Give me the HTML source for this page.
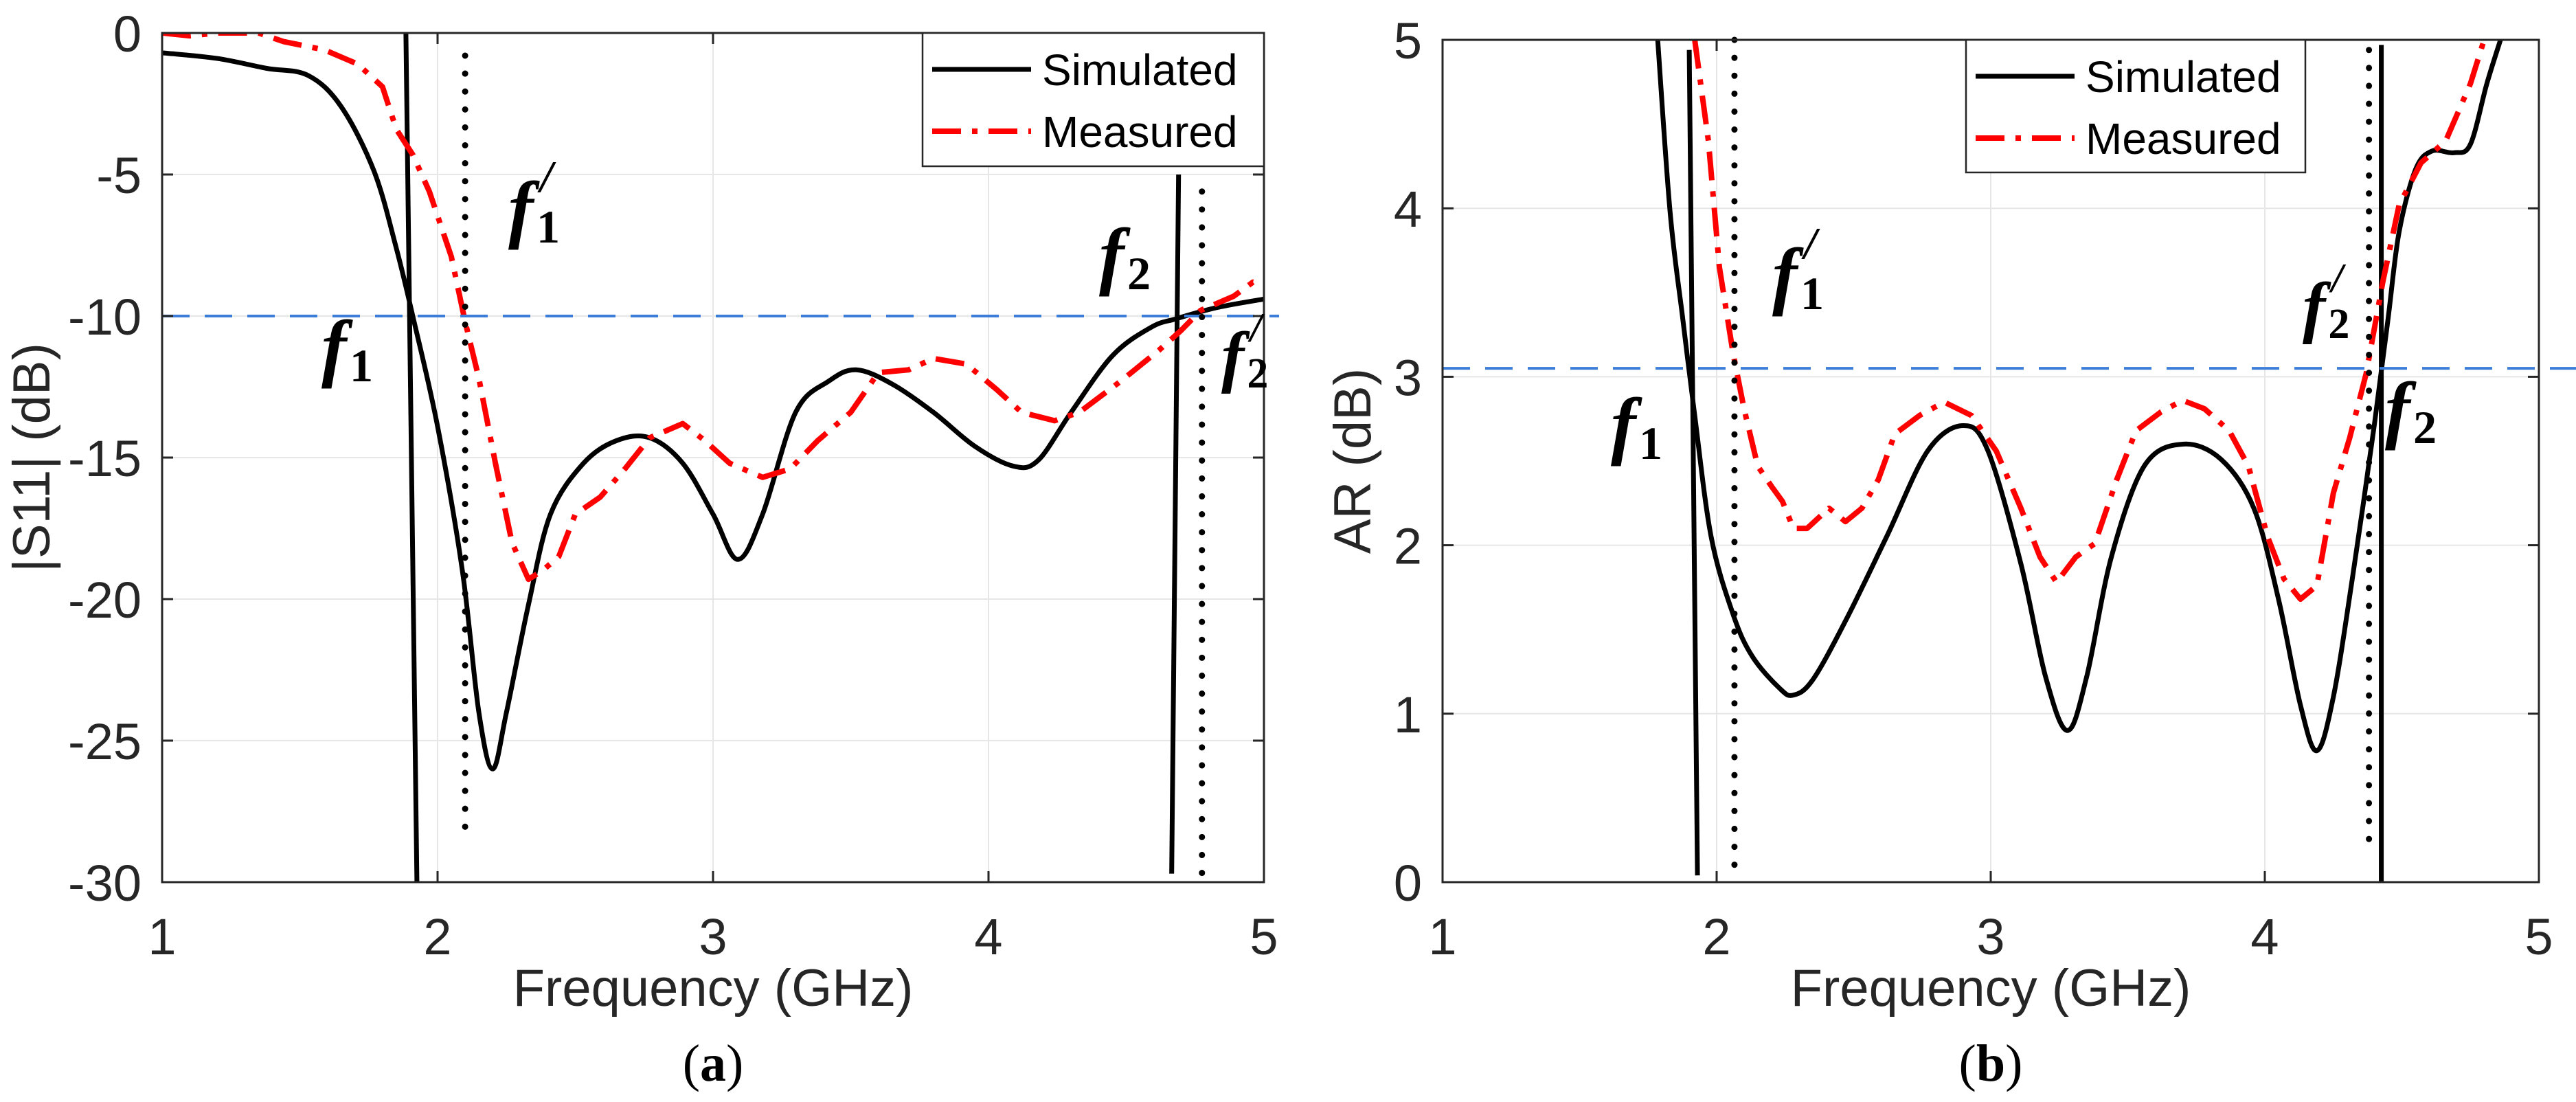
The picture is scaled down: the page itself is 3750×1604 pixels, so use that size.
<!DOCTYPE html>
<html><head><meta charset="utf-8"><style>
html,body{margin:0;padding:0;background:#fff;}
svg{display:block;}
.tk{font-family:"Liberation Sans",sans-serif;font-size:74px;fill:#262626;}
.al{font-family:"Liberation Sans",sans-serif;font-size:76px;fill:#262626;}
.lg{font-family:"Liberation Sans",sans-serif;font-size:64px;fill:#000;}
.fl{font-family:"Liberation Serif",serif;font-weight:bold;fill:#000;}
.cap{font-family:"Liberation Serif",serif;font-size:76px;fill:#000;}
</style></head><body>
<svg id="fig" width="3750" height="1604" viewBox="0 0 3750 1604" xmlns="http://www.w3.org/2000/svg">
<defs>
<clipPath id="clipA"><rect x="236" y="48" width="1604" height="1236"/></clipPath>
<clipPath id="clipB"><rect x="2100" y="58" width="1596" height="1226"/></clipPath>
</defs>
<g id="plotA"></g>
<g id="plotB"></g>
</svg>
<script>
// ---- Panel (a) data ----
const s11SimF = [1.0,1.2,1.38,1.53,1.65,1.77,1.85,1.91,2.0,2.09,2.15,2.2,2.25,2.33,2.41,2.53,2.65,2.77,2.89,3.0,3.09,3.18,3.3,3.42,3.52,3.65,3.8,3.95,4.09,4.18,4.3,4.45,4.59,4.68,4.83,5.0];
const s11SimV = [-0.7,-0.9,-1.25,-1.5,-2.6,-4.9,-7.6,-10.0,-13.9,-19.0,-24.0,-26.0,-24.0,-20.2,-17.0,-15.2,-14.4,-14.3,-15.2,-17.0,-18.6,-17.0,-13.4,-12.3,-11.9,-12.4,-13.4,-14.6,-15.3,-15.1,-13.4,-11.4,-10.4,-10.1,-9.7,-9.4];
const s11MeasF = [1.0,1.1,1.2,1.35,1.44,1.59,1.71,1.8,1.85,1.91,1.97,2.05,2.1,2.15,2.21,2.27,2.33,2.38,2.44,2.5,2.59,2.68,2.77,2.89,2.97,3.06,3.18,3.28,3.38,3.5,3.6,3.71,3.8,3.92,4.03,4.12,4.24,4.33,4.48,4.62,4.7,4.77,4.89,4.96,5.0];
const s11MeasV = [0.0,-0.1,0.0,0.0,-0.3,-0.6,-1.1,-1.9,-3.4,-4.3,-5.6,-7.9,-10.2,-12.2,-15.2,-18.0,-19.3,-19.0,-18.5,-17.0,-16.4,-15.4,-14.3,-13.8,-14.4,-15.2,-15.7,-15.4,-14.4,-13.4,-12.0,-11.9,-11.5,-11.7,-12.6,-13.4,-13.7,-13.4,-12.3,-11.2,-10.5,-9.8,-9.3,-8.8,-8.9];
const s11XTicks = [1,2,3,4,5];
const s11YTicks = [0,-5,-10,-15,-20,-25,-30];
// ---- Panel (b) data ----
const arSimF = [1.785,1.83,1.876,1.92,1.98,2.06,2.13,2.23,2.28,2.35,2.47,2.62,2.77,2.9,2.99,3.11,3.2,3.28,3.35,3.44,3.56,3.7,3.84,3.96,4.05,4.13,4.19,4.25,4.32,4.4,4.45,4.49,4.55,4.61,4.69,4.75,4.81,4.86];
const arSimV = [5.0,3.98,3.35,2.77,2.05,1.59,1.34,1.15,1.11,1.2,1.55,2.05,2.56,2.71,2.56,1.89,1.22,0.9,1.22,1.93,2.47,2.6,2.51,2.22,1.68,1.05,0.78,1.1,1.81,2.72,3.35,3.86,4.23,4.34,4.33,4.38,4.74,5.0];
const arMeasF = [1.92,1.97,2.01,2.06,2.1,2.15,2.2,2.24,2.28,2.33,2.41,2.47,2.53,2.59,2.65,2.74,2.83,2.93,3.02,3.11,3.18,3.24,3.31,3.38,3.46,3.53,3.62,3.7,3.78,3.87,3.94,4.01,4.07,4.13,4.19,4.25,4.31,4.37,4.43,4.49,4.57,4.66,4.75,4.8];
const arMeasV = [5.0,4.4,3.65,3.14,2.81,2.47,2.35,2.26,2.1,2.1,2.22,2.14,2.22,2.39,2.66,2.77,2.85,2.77,2.56,2.22,1.93,1.78,1.93,2.01,2.39,2.68,2.79,2.86,2.81,2.68,2.47,2.05,1.8,1.68,1.76,2.31,2.64,3.02,3.56,4.02,4.27,4.4,4.74,5.0];
const arXTicks = [1,2,3,4,5];
const arYTicks = [0,1,2,3,4,5];

const NS = 'http://www.w3.org/2000/svg';
function mk(parent, tag, attrs, text){
  const e = document.createElementNS(NS, tag);
  for (const k in attrs) e.setAttribute(k, attrs[k]);
  if (text !== undefined) e.textContent = text;
  parent.appendChild(e);
  return e;
}
function smooth(pts){
  let d = 'M'+pts[0][0].toFixed(1)+','+pts[0][1].toFixed(1);
  for (let i=0;i<pts.length-1;i++){
    const p0=pts[Math.max(0,i-1)],p1=pts[i],p2=pts[i+1],p3=pts[Math.min(pts.length-1,i+2)];
    const c1=[p1[0]+(p2[0]-p0[0])/6,p1[1]+(p2[1]-p0[1])/6];
    const c2=[p2[0]-(p3[0]-p1[0])/6,p2[1]-(p3[1]-p1[1])/6];
    d+=' C'+c1[0].toFixed(1)+','+c1[1].toFixed(1)+' '+c2[0].toFixed(1)+','+c2[1].toFixed(1)+' '+p2[0].toFixed(1)+','+p2[1].toFixed(1);
  }
  return d;
}
function fLabel(g, x, y, sub, prime, size, name){
  const t = mk(g,'text',{x:x,y:y,class:'fl','font-size':size});
  
  
  const a = mk(t,'tspan',{'font-style':'italic'},'f');
  const b = mk(t,'tspan',{'font-size':size*0.62,dy:size*0.12,dx:size*0.04},sub);
  if (prime){
    mk(g,'text',{x:x+size*0.42,y:y-size*0.55,class:'fl','font-size':size*0.6,'font-style':'italic'},'/');
  }
}
function panel(cfg){
  const g = document.getElementById(cfg.id);
  const X = f => cfg.x0 + (f-cfg.xmin)/(cfg.xmax-cfg.xmin)*(cfg.x1-cfg.x0);
  const Y = v => cfg.y1 - (v-cfg.ymin)/(cfg.ymax-cfg.ymin)*(cfg.y1-cfg.y0);
  // grid
  cfg.xt.forEach(t=>{ const l=mk(g,'line',{x1:X(t),x2:X(t),y1:cfg.y0,y2:cfg.y1,stroke:'#e6e6e6','stroke-width':2});
      });
  cfg.yt.forEach(t=>{ const l=mk(g,'line',{x1:cfg.x0,x2:cfg.x1,y1:Y(t),y2:Y(t),stroke:'#e6e6e6','stroke-width':2});
      });
  const cg = mk(g,'g',{'clip-path':'url(#'+cfg.clip+')'});
  // threshold
  const th = mk(g,'line',{x1:cfg.x0,x2:cfg.thEnd,y1:Y(cfg.th),y2:Y(cfg.th),stroke:'#3b7dd8','stroke-width':4,'stroke-dasharray':'40 22'});
   
  // markers
  cfg.vs.forEach(v=>{ const l=mk(cg,'line',{x1:X(v[0]),y1:Y(v[1]),x2:X(v[2]),y2:Y(v[3]),stroke:'#000','stroke-width':7});
      });
  cfg.vd.forEach(v=>{ const l=mk(g,'line',{x1:X(v[0]),y1:Y(v[1]),x2:X(v[0]),y2:Y(v[2]),stroke:'#000','stroke-width':9,'stroke-dasharray':'0.1 26','stroke-linecap':'round'});
      });
  // series
  const sim = mk(cg,'path',{d:smooth(cfg.sf.map((f,i)=>[X(f),Y(cfg.sv[i])])),fill:'none',stroke:'#000','stroke-width':7,'stroke-linejoin':'round'});
   
  const mea = mk(cg,'polyline',{points:cfg.mf.map((f,i)=>X(f).toFixed(1)+','+Y(cfg.mv[i]).toFixed(1)).join(' '),fill:'none',stroke:'#ff0000','stroke-width':8,'stroke-dasharray':'42 16 8 16','stroke-linejoin':'round'});
   
  // axes box
  const bx = mk(g,'rect',{x:cfg.x0,y:cfg.y0,width:cfg.x1-cfg.x0,height:cfg.y1-cfg.y0,fill:'none',stroke:'#262626','stroke-width':3});
   
  cfg.xt.forEach(t=>{ mk(g,'line',{x1:X(t),x2:X(t),y1:cfg.y1,y2:cfg.y1-16,stroke:'#262626','stroke-width':3});
    mk(g,'line',{x1:X(t),x2:X(t),y1:cfg.y0,y2:cfg.y0+16,stroke:'#262626','stroke-width':3});
    const tl=mk(g,'text',{x:X(t),y:cfg.y1+105,class:'tk','text-anchor':'middle'},String(t));
      });
  cfg.yt.forEach(t=>{ mk(g,'line',{x1:cfg.x0,x2:cfg.x0+16,y1:Y(t),y2:Y(t),stroke:'#262626','stroke-width':3});
    mk(g,'line',{x1:cfg.x1,x2:cfg.x1-16,y1:Y(t),y2:Y(t),stroke:'#262626','stroke-width':3});
    const tl=mk(g,'text',{x:cfg.x0-30,y:Y(t)+27,class:'tk','text-anchor':'end'},String(t));
      });
  const xl = mk(g,'text',{x:(cfg.x0+cfg.x1)/2,y:cfg.y1+180,class:'al','text-anchor':'middle'},'Frequency (GHz)');
   
  const yl = mk(g,'text',{x:0,y:0,class:'al','text-anchor':'middle',transform:'translate('+cfg.ylx+','+((cfg.y0+cfg.y1)/2)+') rotate(-90)'},cfg.ylabel);
   
  const cp = mk(g,'text',{x:(cfg.x0+cfg.x1)/2,y:1573,class:'cap','text-anchor':'middle'});
   
  mk(cp,'tspan',{},'(');mk(cp,'tspan',{'font-weight':'bold'},cfg.cap);mk(cp,'tspan',{},')');
  // legend
  const L = cfg.leg;
  const lg = mk(g,'g',{});
   
  mk(lg,'rect',{x:L[0],y:L[1],width:L[2],height:L[3],fill:'#fff',stroke:'#262626','stroke-width':2.5});
  const e1 = mk(lg,'g',{});  
  mk(e1,'line',{x1:L[0]+14,x2:L[0]+158,y1:L[1]+53,y2:L[1]+53,stroke:'#000','stroke-width':7});
  mk(e1,'text',{x:L[0]+174,y:L[1]+76,class:'lg'},'Simulated');
  const e2 = mk(lg,'g',{});  
  mk(e2,'line',{x1:L[0]+14,x2:L[0]+158,y1:L[1]+143,y2:L[1]+143,stroke:'#ff0000','stroke-width':8,'stroke-dasharray':'42 16 8 16'});
  mk(e2,'text',{x:L[0]+174,y:L[1]+166,class:'lg'},'Measured');
  cfg.labels.forEach(l=>fLabel(g,l[0],l[1],l[2],l[3],l[4],l[5]));
}
panel({id:'plotA',clip:'clipA',x0:236,x1:1840,y0:48,y1:1284,xmin:1,xmax:5,ymin:-30,ymax:0,
  xt:s11XTicks,yt:s11YTicks,sf:s11SimF,sv:s11SimV,mf:s11MeasF,mv:s11MeasV,th:-10,thEnd:1862,
  vs:[[1.885,0,1.925,-30],[4.69,-5,4.665,-29.7]],vd:[[2.1,-0.8,-28.6],[4.775,-5.6,-30]],
  ylabel:'|S11| (dB)',ylx:72,cap:'a',leg:[1343,48,497,194],
  labels:[[740,340,'1',true,110,'f1-prime-label'],[468,542,'1',false,110,'f1-label'],[1600,408,'2',false,110,'f2-label'],[1778,552,'2',true,100,'f2-prime-label']]});
panel({id:'plotB',clip:'clipB',x0:2100,x1:3696,y0:58,y1:1284,xmin:1,xmax:5,ymin:0,ymax:5,
  xt:arXTicks,yt:arYTicks,sf:arSimF,sv:arSimV,mf:arMeasF,mv:arMeasV,th:3.05,thEnd:3750,
  vs:[[1.9,4.94,1.93,0.04],[4.425,4.97,4.425,0]],vd:[[2.065,5,0],[4.38,4.94,0.2]],
  ylabel:'AR (dB)',ylx:1995,cap:'b',leg:[2862,58,494,193],
  labels:[[2580,437,'1',true,110,'f1-prime-label'],[2345,655,'1',false,110,'f1-label'],[3352,480,'2',true,100,'f2-prime-label'],[3472,632,'2',false,110,'f2-label']]});
</script>
</body></html>
